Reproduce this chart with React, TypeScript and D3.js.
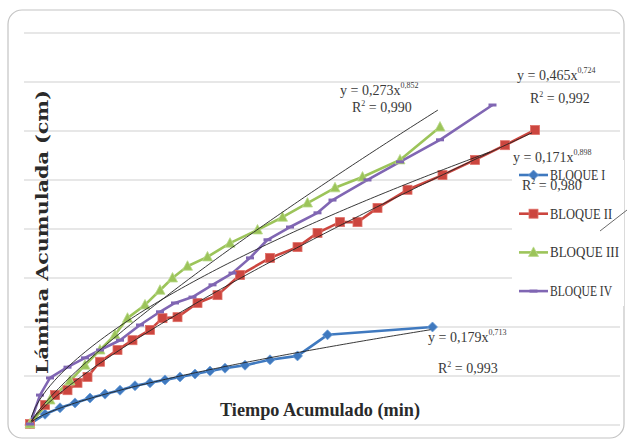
import React from "react";
import * as d3 from "d3";

// tiempo acumulado (min) y lamina acumulada (cm)
const tiempoI = [0, 6, 12, 18, 24, 30, 36, 42, 48, 54, 60, 66, 72, 78, 86, 96, 107, 119, 161];
const laminaI = [0, 2.0, 3.3, 4.3, 5.3, 6.1, 6.9, 7.8, 8.4, 9.0, 9.6, 10.2, 10.8, 11.4, 12.0, 13.1, 13.9, 18.2, 19.8];

const tiempoII = [0, 6, 10, 15, 19, 23, 28, 35, 41, 48, 53, 59, 67, 75, 84, 96, 107, 115, 124, 131, 139, 151, 165, 178, 190, 202];
const laminaII = [0, 3.9, 5.9, 6.9, 8.4, 9.6, 12.7, 15.1, 17.1, 19.2, 21.6, 21.8, 24.7, 26.3, 30.4, 33.9, 36.1, 39.0, 41.2, 41.2, 44.1, 47.8, 50.8, 53.9, 56.9, 60.0];

const tiempoIII = [0, 8, 16, 22, 28, 34, 39, 46, 52, 57, 63, 71, 80, 91, 101, 111, 122, 133, 148, 164];
const laminaIII = [0, 4.9, 8.8, 12.0, 15.1, 18.2, 21.6, 24.3, 27.3, 29.8, 32.2, 34.1, 36.9, 39.6, 42.2, 45.1, 48.2, 50.4, 53.9, 60.6];

const tiempoIV = [0, 4, 8, 15, 22, 28, 36, 44, 52, 58, 65, 73, 81, 88, 95, 104, 115, 121, 135, 148, 164, 185];
const laminaIV = [0, 5.9, 9.4, 11.6, 13.5, 15.1, 17.1, 20.2, 22.9, 24.7, 25.9, 28.4, 30.8, 33.9, 37.6, 40.2, 43.1, 45.7, 49.8, 53.5, 58.0, 65.1];

const bloques = ["BLOQUE I", "BLOQUE II", "BLOQUE III", "BLOQUE IV"];
const ecuaciones = [
  { y: "y = 0,179x", exp: "0,713", r2: "0,993" },
  { y: "y = 0,465x", exp: "0,724", r2: "0,992" },
  { y: "y = 0,273x", exp: "0,852", r2: "0,990" },
  { y: "y = 0,171x", exp: "0,898", r2: "0,980" },
];
const gridValues = [0, 10, 20, 30, 40, 50, 60, 70, 80];

const W = 627;
const H = 447;

type Pt = { t: number; v: number };

const series: { name: string; color: string; marker: string; pts: Pt[] }[] = [
  { name: bloques[0], color: "#3f79bf", marker: "diamond", pts: tiempoI.map((t, i) => ({ t, v: laminaI[i] })) },
  { name: bloques[1], color: "#cc463f", marker: "square", pts: tiempoII.map((t, i) => ({ t, v: laminaII[i] })) },
  { name: bloques[2], color: "#9cc45a", marker: "triangle", pts: tiempoIII.map((t, i) => ({ t, v: laminaIII[i] })) },
  { name: bloques[3], color: "#8066b3", marker: "dash", pts: tiempoIV.map((t, i) => ({ t, v: laminaIV[i] })) },
];

// ajuste potencial y = a x^b (regresion log-log, sin los ceros)
function powerFit(pts: Pt[]) {
  const p = pts.filter((d) => d.t > 0 && d.v > 0);
  const lx = p.map((d) => Math.log(d.t));
  const ly = p.map((d) => Math.log(d.v));
  const mx = d3.mean(lx) as number;
  const my = d3.mean(ly) as number;
  const b = d3.sum(lx, (x, i) => (x - mx) * (ly[i] - my)) / d3.sum(lx, (x) => (x - mx) ** 2);
  const a = Math.exp(my - b * mx);
  return { a, b };
}

function Marker({ kind, x, y, color }: { kind: string; x: number; y: number; color: string }) {
  if (kind === "diamond")
    return <path d={`M${x},${y - 5}L${x + 5},${y}L${x},${y + 5}L${x - 5},${y}Z`} fill={color} stroke="#6fa0d8" strokeWidth={0.8} />;
  if (kind === "square")
    return <rect x={x - 4.5} y={y - 4.5} width={9} height={9} fill={color} stroke="#e07068" strokeWidth={0.8} />;
  if (kind === "triangle")
    return <path d={`M${x},${y - 5.5}L${x + 5},${y + 4}L${x - 5},${y + 4}Z`} fill={color} stroke="#b9d98a" strokeWidth={0.8} />;
  return <line x1={x - 4} x2={x + 4} y1={y} y2={y} stroke={color} strokeWidth={3} />;
}

export default function App() {
  const x = d3.scaleLinear().domain([0, 240]).range([30, 630]);
  const y = d3.scaleLinear().domain([0, 80]).range([424, 32]);
  const line = d3
    .line<Pt>()
    .x((d) => x(d.t))
    .y((d) => y(d.v));

  const trends = series.map((s) => {
    const { a, b } = powerFit(s.pts);
    const tMax = d3.max(s.pts, (d) => d.t) as number;
    const ts = d3.range(0.5, tMax + 0.01, tMax / 120);
    return ts.map((t) => ({ t, v: a * Math.pow(t, b) }));
  });

  const labelFont = "'Liberation Serif', serif";
  // posicion de cada ecuacion: [x, y] de la linea "y = ..." y de "R2"
  const eqPos = [
    { ex: 428, ey: 342, rx: 438, ry: 373 },
    { ex: 517, ey: 80, rx: 530, ry: 103 },
    { ex: 340, ey: 95, rx: 352, ry: 112 },
    { ex: 513, ey: 162, rx: 522, ry: 190 },
  ];

  return (
    <div style={{ position: "fixed", left: 0, top: 0 }}>
      <svg width={W} height={H} style={{ display: "block", background: "#fff" }}>
        <rect x={8} y={10} width={616} height={428} rx={14} fill="#fff" stroke="#c4c4c4" strokeWidth={1.2} />
        {gridValues.map((g) => (
          <line key={g} x1={24} x2={620} y1={y(g) + 1} y2={y(g) + 1} stroke="#cfcfcf" strokeWidth={1} />
        ))}

        <text
          transform="translate(48,232) rotate(-90)"
          textAnchor="middle"
          fontFamily="'DejaVu Serif', serif"
          fontWeight="bold"
          fontSize={16.5}
          fill="#2a2a2a"
          textLength={284}
          lengthAdjust="spacingAndGlyphs"
        >
          Lámina Acumulada (cm)
        </text>
        <text
          x={320}
          y={416}
          textAnchor="middle"
          fontFamily={labelFont}
          fontWeight="bold"
          fontSize={18}
          fill="#2a2a2a"
          textLength={200}
          lengthAdjust="spacingAndGlyphs"
        >
          Tiempo Acumulado (min)
        </text>

        {series.map((s) => (
          <path key={s.name} d={line(s.pts) || ""} fill="none" stroke={s.color} strokeWidth={2.6} strokeLinejoin="round" />
        ))}
        {series.map((s) =>
          s.pts.map((p, i) => <Marker key={s.name + i} kind={s.marker} x={x(p.t)} y={y(p.v)} color={s.color} />)
        )}
        {trends.map((tr, i) => (
          <path key={"tr" + i} d={line(tr) || ""} fill="none" stroke="#222" strokeWidth={0.9} />
        ))}

        {/* leyenda */}
        <rect x={512} y={160} width={112} height={146} fill="#fff" />
        {series.map((s, i) => {
          const ly = 175 + i * 38.7;
          return (
            <g key={"lg" + i}>
              <line x1={519} x2={548} y1={ly} y2={ly} stroke={s.color} strokeWidth={2.6} />
              <Marker kind={s.marker} x={533.5} y={ly} color={s.color} />
              <text x={550} y={ly + 5} fontFamily={labelFont} fontSize={14} fill="#333" textLength={s.name.length * 6.9} lengthAdjust="spacingAndGlyphs">
                {s.name}
              </text>
            </g>
          );
        })}
        <line x1={600} y1={231} x2={627} y2={210} stroke="#444" strokeWidth={0.8} />

        {ecuaciones.map((e, i) => (
          <g key={"eq" + i} fontFamily={labelFont} fill="#3a3a3a">
            <text x={eqPos[i].ex} y={eqPos[i].ey} fontSize={14}>
              {e.y}
              <tspan fontSize={8} dy={-7}>
                {e.exp}
              </tspan>
            </text>
            <text x={eqPos[i].rx} y={eqPos[i].ry} fontSize={14}>
              R<tspan fontSize={8} dy={-6}>2</tspan>
              <tspan dy={6}> = {e.r2}</tspan>
            </text>
          </g>
        ))}
      </svg>
    </div>
  );
}
